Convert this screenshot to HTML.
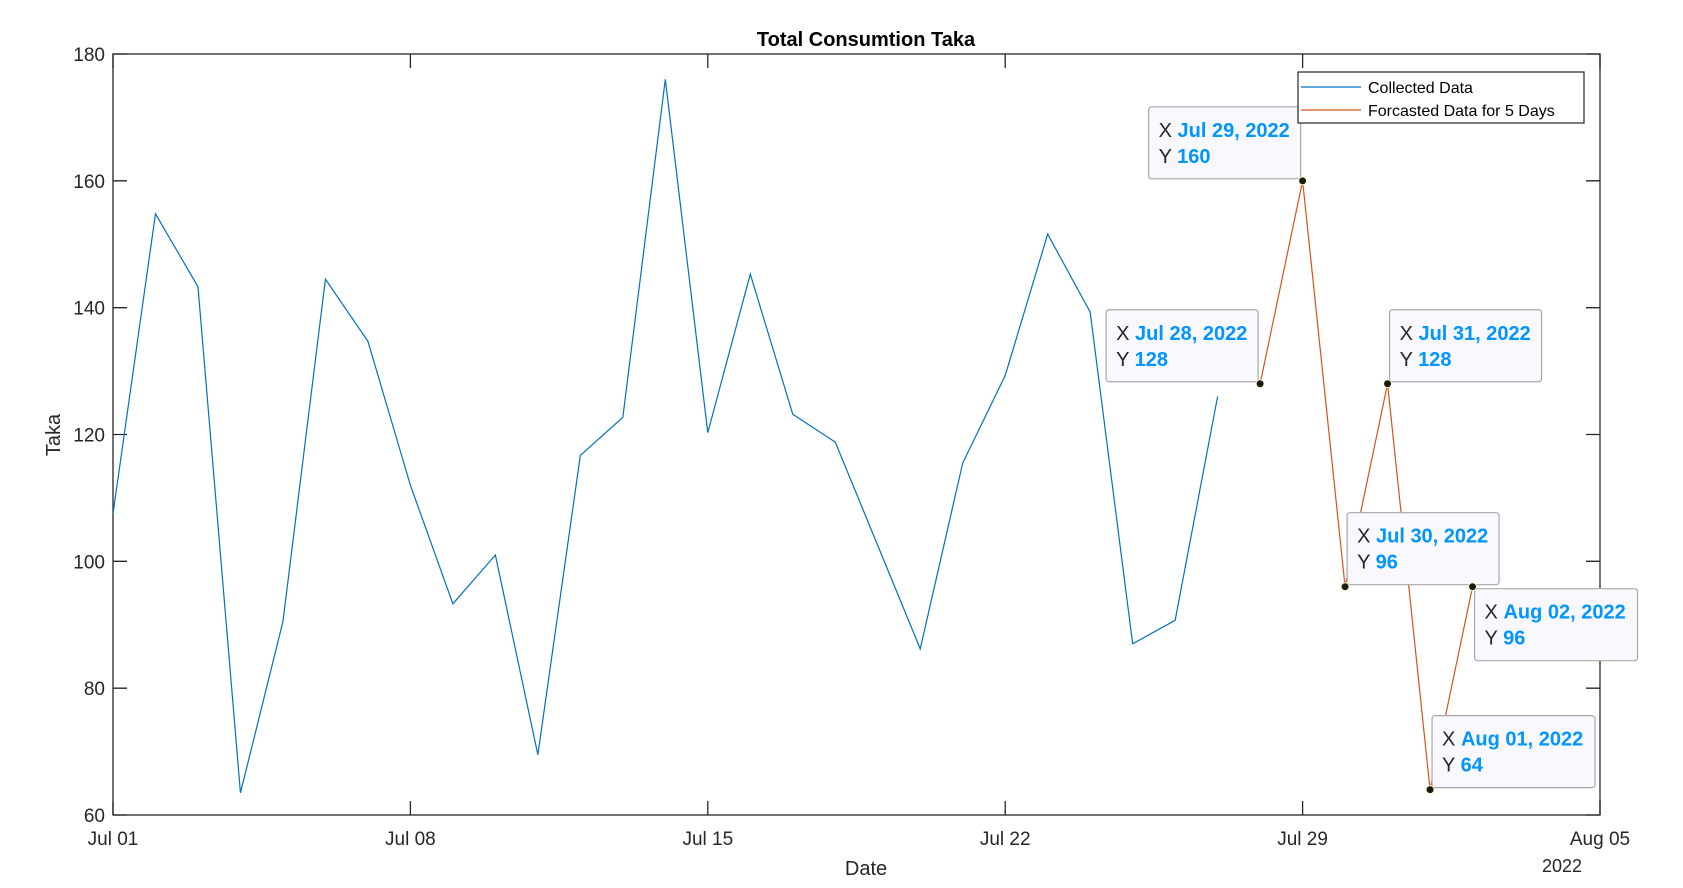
<!DOCTYPE html>
<html><head><meta charset="utf-8"><style>
body{margin:0;background:#fff;}
svg{display:block;font-family:"Liberation Sans",Arial,sans-serif;}
</style></head><body>
<svg id="chart" width="1683" height="888" xmlns="http://www.w3.org/2000/svg">
<rect width="1683" height="888" fill="#fff"/>
<text x="866" y="46" text-anchor="middle" font-size="20" font-weight="bold" fill="#000">Total Consumtion Taka</text>
<g id="axes"></g>
<g id="series"></g>
<g id="tips"></g>
<text x="866" y="875" text-anchor="middle" font-size="20" fill="#262626">Date</text>
<text x="1562" y="872" text-anchor="middle" font-size="18" fill="#262626">2022</text>
<text transform="translate(60,435) rotate(-90)" text-anchor="middle" font-size="20" fill="#262626">Taka</text>
<g>
<rect x="1298" y="72" width="286" height="51" fill="#fff" stroke="#262626" stroke-width="1.2"/>
<line x1="1301" y1="87" x2="1361" y2="87" stroke="#0072BD" stroke-width="1.2"/>
<text x="1368" y="93" font-size="16" fill="#000">Collected Data</text>
<line x1="1301" y1="110" x2="1361" y2="110" stroke="#D95319" stroke-width="1.2"/>
<text x="1368" y="116" font-size="16" fill="#000">Forcasted Data for 5 Days</text>
</g>
</svg>
<script>
const collectedValues=[107.5,154.8,143.3,63.5,90.5,144.5,134.7,112,93.3,101,69.5,116.7,122.7,176,120.3,145.3,123.2,118.8,102.5,86.2,115.5,129.3,151.6,139.3,87,90.7,126];
const forecastDays=[27,28,29,30,31,32];
const forecastValues=[128,160,96,128,64,96];
const forecastLabels=["Jul 28, 2022","Jul 29, 2022","Jul 30, 2022","Jul 31, 2022","Aug 01, 2022","Aug 02, 2022"];
const yTicks=[60,80,100,120,140,160,180];
const xTickDays=[0,7,14,21,28,35];
const xTickLabels=["Jul 01","Jul 08","Jul 15","Jul 22","Jul 29","Aug 05"];
const L=113,R=1600,T=54,B=815;
const NS="http://www.w3.org/2000/svg";
function X(d){return L+d*(R-L)/35;}
function Y(v){return B-(v-60)*(B-T)/120;}
function mk(p,tag,a){const e=document.createElementNS(NS,tag);for(const k in a)e.setAttribute(k,a[k]);p.appendChild(e);return e;}
const ax=document.getElementById('axes');
let r=mk(ax,'rect',{x:L,y:T,width:R-L,height:B-T,fill:'none',stroke:'#262626','stroke-width':1.3});


yTicks.forEach(v=>{
 let t=mk(ax,'path',{d:`M${L},${Y(v)}h14M${R},${Y(v)}h-14`,stroke:'#262626','stroke-width':1.3});
 
 
 let tx=mk(ax,'text',{x:L-8,y:Y(v)+7,'text-anchor':'end','font-size':19,fill:'#262626'});tx.textContent=v;
 
 
});
xTickDays.forEach((d,i)=>{
 let t=mk(ax,'path',{d:`M${X(d)},${B}v-14M${X(d)},${T}v14`,stroke:'#262626','stroke-width':1.3});
 
 
 let tx=mk(ax,'text',{x:X(d),y:B+30,'text-anchor':'middle','font-size':19,fill:'#262626'});tx.textContent=xTickLabels[i];
 
 
});
const se=document.getElementById('series');
let p1=mk(se,'polyline',{points:collectedValues.map((v,i)=>X(i)+','+Y(v)).join(' '),fill:'none',stroke:'#0072BD','stroke-width':1.2});


let p2=mk(se,'polyline',{points:forecastValues.map((v,i)=>X(forecastDays[i])+','+Y(v)).join(' '),fill:'none',stroke:'#D95319','stroke-width':1.2});


const tips=document.getElementById('tips');
const place=[0,0,1,1,1,2];
forecastValues.forEach((v,i)=>{
 const px=X(forecastDays[i]),py=Y(v);
 const w=forecastLabels[i].startsWith('Aug')?163:152,h=72;
 let bx,by;
 if(place[i]==0){bx=px-2-w;by=py-2-h;}else if(place[i]==1){bx=px+2;by=py-2-h;}else{bx=px+2;by=py+2;}
 const g=mk(tips,'g',{});
 
 
 mk(g,'rect',{x:bx,y:by,width:w,height:h,rx:3,fill:'#f8f8fe',stroke:'#a8a8a8','stroke-width':1.2});
 const t1=mk(g,'text',{x:bx+10,y:by+30,'font-size':20,fill:'#262626'});
 t1.innerHTML='X <tspan font-weight="bold" fill="#0095ff">'+forecastLabels[i]+'</tspan>';
 const t2=mk(g,'text',{x:bx+10,y:by+56,'font-size':20,fill:'#262626'});
 t2.innerHTML='Y <tspan font-weight="bold" fill="#0095ff">'+v+'</tspan>';
 const c=mk(tips,'circle',{cx:px,cy:py,r:4,fill:'#1a1a1a',stroke:'#ffffc0','stroke-width':1});
 
 
});
</script>
</body></html>
